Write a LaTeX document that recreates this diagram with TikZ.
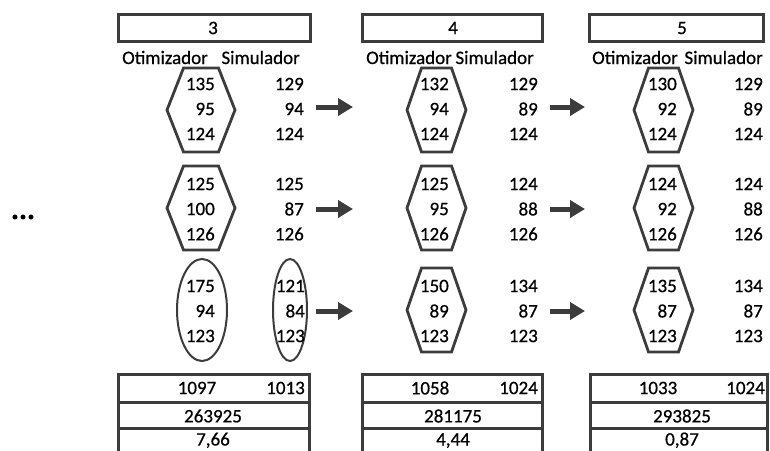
\documentclass[tikz,border=0pt]{standalone}
\usepackage{fontspec}
\setmainfont{Carlito}[RawFeature={embolden=0.6}]
\usetikzlibrary{arrows.meta}
\definecolor{edge}{HTML}{3C3C3C}
\tikzset{
  txt/.style={inner sep=0pt, font=\fontsize{19}{23}\selectfont},
  num/.style={txt, anchor=east},
  ctr/.style={txt, anchor=center},
  frame/.style={draw=edge, line width=3pt, line join=miter},
  hexline/.style={draw=edge, line width=2.8pt, line join=miter},
  oval/.style={draw=edge, line width=2pt},
  flow/.style={draw=edge, line width=5pt, -{Triangle[length=15pt,width=17pt]}},
}
\begin{document}
\begin{tikzpicture}[x=1pt,y=-1pt]
\useasboundingbox (0,0) rectangle (770,450);

% iteration headers
\foreach \n/\l/\r/\t in {3/118/310/213, 4/362/542/453, 5/589/763/682} {
  \draw[frame] (\l,14) rectangle (\r,41);
  \node[ctr] (step\n) at (\t,28) {\n};
}

% column titles
\foreach \c/\a/\b in {1/122/300, 2/366/534, 3/592/763} {
  \node[txt, anchor=base west] (opt\c) at (\a,64) {Otimizador};
  \node[txt, anchor=base east] (sim\c) at (\b,64) {Simulador};
}

% hexagons around the optimizer values
\foreach \x/\t/\s/\y in {201/17.5/34/110, 201/17.5/34/208,
    436.5/15/29.5/110, 436.5/15/29.5/208, 436.5/15/29.5/310,
    663.5/15/29.5/110, 663.5/15/29.5/208, 663.5/15/29.5/310} {
  \draw[hexline] (\x-\t,\y-42) -- (\x+\t,\y-42) -- (\x+\s,\y)
    -- (\x+\t,\y+42) -- (\x-\t,\y+42) -- (\x-\s,\y) -- cycle;
}

% ellipses of the first iteration, last row
\draw[oval] (202,310) ellipse [x radius=25, y radius=51];
\draw[oval] (290,310) ellipse [x radius=17, y radius=51];

% optimizer and simulator values
\foreach \c/\r/\y/\ox/\sx/\oa/\ob/\oc/\sa/\sb/\sc in {
    1/1/109/215/304/135/95/124/129/94/124,
    1/2/209/215/304/125/100/126/125/87/126,
    1/3/311/215/305/175/94/123/121/84/123,
    2/1/109/449/538/132/94/124/129/89/124,
    2/2/209/449/538/125/95/126/124/88/126,
    2/3/311/449/538/150/89/123/134/87/123,
    3/1/109/677/763/130/92/124/129/89/124,
    3/2/209/677/763/124/92/126/124/88/126,
    3/3/311/677/763/135/87/123/134/87/123} {
  \node[num] (o\c\r a) at (\ox,\y-25) {\oa};
  \node[num] (o\c\r b) at (\ox,\y)    {\ob};
  \node[num] (o\c\r c) at (\ox,\y+25) {\oc};
  \node[num] (s\c\r a) at (\sx,\y-25) {\sa};
  \node[num] (s\c\r b) at (\sx,\y)    {\sb};
  \node[num] (s\c\r c) at (\sx,\y+25) {\sc};
}

% arrows between iterations
\foreach \r/\y in {1/107, 2/209, 3/311} {
  \coordinate (f\r a) at (316,\y);
  \coordinate (t\r a) at (353,\y);
  \coordinate (f\r b) at (550,\y);
  \coordinate (t\r b) at (585,\y);
  \draw[flow] (f\r a) -- (t\r a);
  \draw[flow] (f\r b) -- (t\r b);
}

% preceding iterations
\node[inner sep=0pt, anchor=base, font=\fontsize{30}{34}\selectfont\bfseries] (more) at (23,219) {...};

% summary tables
\foreach \l/\r in {118/309, 362/542, 590/767} {
  \draw[frame] (\l,455) -- (\l,374) -- (\r,374) -- (\r,455);
  \draw[frame] (\l,402) -- (\r,402);
  \draw[frame] (\l,428) -- (\r,428);
}
\node[ctr] (sumo1) at (197,388) {1097};
\node[num] (sums1) at (305,388) {1013};
\node[ctr] (obj1)  at (213,416) {263925};
\node[txt, anchor=base] (err1) at (213,445.5) {7,66};

\node[ctr] (sumo2) at (430,388) {1058};
\node[num] (sums2) at (538,388) {1024};
\node[ctr] (obj2)  at (453,416) {281175};
\node[txt, anchor=base] (err2) at (453,445.5) {4,44};

\node[ctr] (sumo3) at (658,388) {1033};
\node[num] (sums3) at (765,388) {1024};
\node[ctr] (obj3)  at (682,416) {293825};
\node[txt, anchor=base] (err3) at (682,445.5) {0,87};
\end{tikzpicture}
\end{document}
